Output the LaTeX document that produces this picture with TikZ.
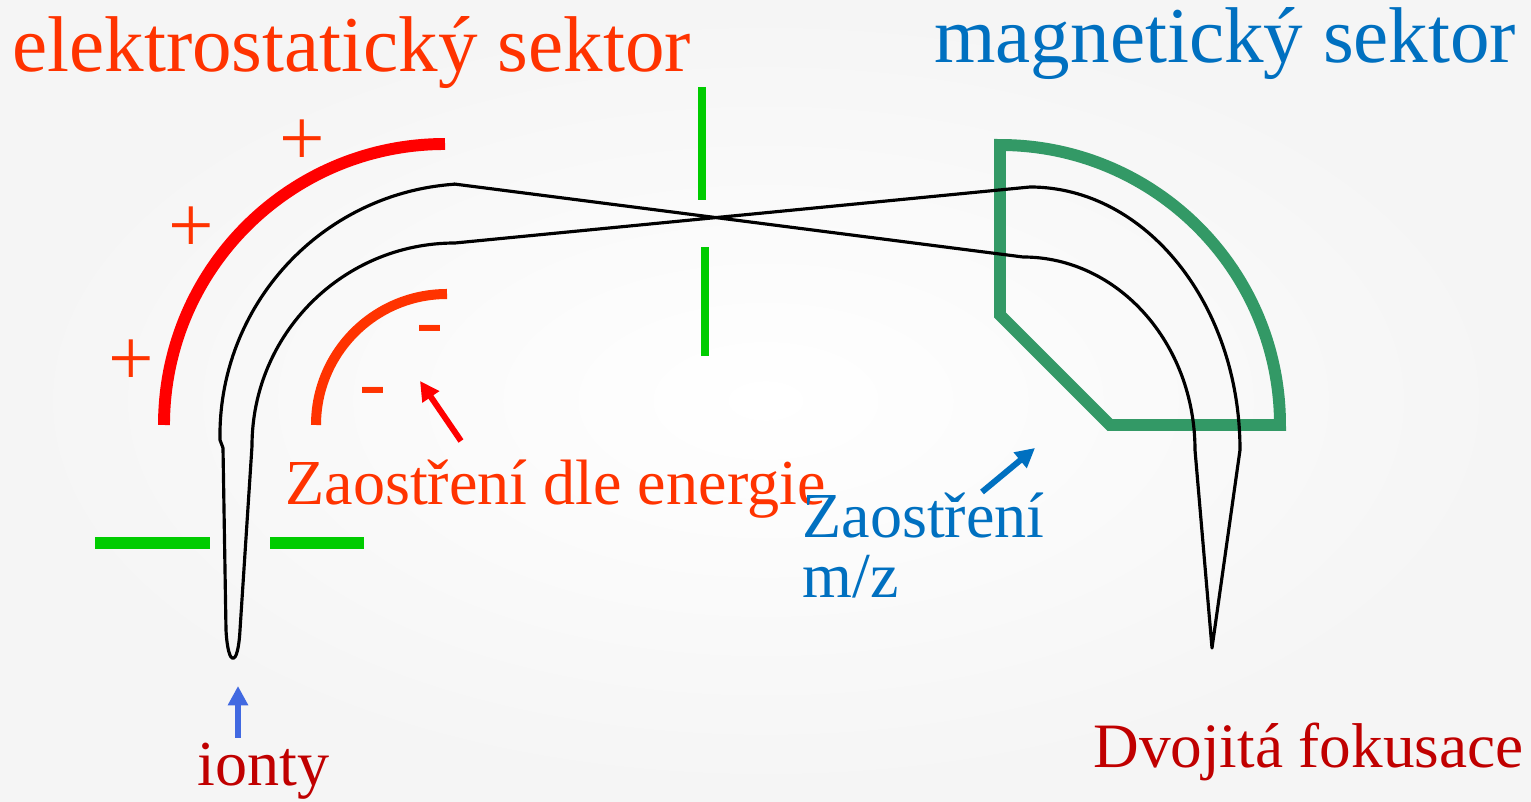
\documentclass[tikz,border=0pt]{standalone}
\usepackage{fontspec}
\setmainfont{Liberation Serif}
\usetikzlibrary{arrows.meta,positioning}
\definecolor{esRed}{RGB}{255,0,0}
\definecolor{esOrange}{RGB}{255,51,0}
\definecolor{magGreen}{RGB}{51,153,102}
\definecolor{slitGreen}{RGB}{0,204,0}
\definecolor{magBlue}{RGB}{0,112,192}
\definecolor{ionRed}{RGB}{192,0,0}
\definecolor{ionBlue}{RGB}{65,105,225}

\begin{document}
\begin{tikzpicture}[
        x=0.02cm, y=0.02cm,
        sectortitle/.style={font=\fontsize{45}{50}\selectfont, text=#1, inner sep=0pt, anchor=base west},
        notetext/.style={font=\fontsize{36.5}{40}\selectfont, text=#1, inner sep=0pt, anchor=base west},
        chargesign/.style={font=\fontsize{46}{50}\selectfont, text=esOrange, inner sep=0pt},
        beam/.style={black, line width=1.8pt, line join=round},
        slit/.style={slitGreen, line width=#1},
        pointer/.style={-{Triangle[length=11pt,width=11pt]}, line width=3.4pt, draw=#1, fill=#1}
    ]
        % Background
        \fill[inner color=white, outer color=black!4] (0,0) rectangle (1531,801);
        \useasboundingbox (0,0) rectangle (1531,801);

        % Titles
        \node[sectortitle=esOrange] (estitle) at (12,729) {elektrostatický sektor};
        \node[sectortitle=magBlue] (magtitle) at (934,738) {magnetický sektor};

        % Electrostatic sector
        \draw[esRed, line width=6.8pt] (164,376) arc[start angle=180, end angle=90, radius=281];
        \draw[esOrange, line width=5.7pt] (316,376) arc[start angle=180, end angle=90, radius=131];
        \node[chargesign] (plus1) at (302,658) {+};
        \node[chargesign] (plus2) at (191,571) {+};
        \node[chargesign] (plus3) at (131,438) {+};
        \node[chargesign] (minus1) at (430,465) {-};
        \node[chargesign] (minus2) at (373,403) {-};

        % Magnetic sector
        \draw[magGreen, line width=6.8pt] (1000,656) arc[start angle=90, end angle=0, radius=280]
            -- (1110,376) -- (1000,486) -- cycle;

        % Slits
        \draw[slit=6.5pt] (95,258) -- (210,258);
        \draw[slit=6.5pt] (270,258) -- (364,258);
        \draw[slit=4pt] (702,714) -- (702,601);
        \draw[slit=4pt] (705,554) -- (705,445);

        % Ion beams
        \draw[beam] (454,617) -- (1023,544)
            arc[start angle=90, end angle=0, x radius=172, y radius=193]
            -- (1212,153) -- (1240,351)
            arc[start angle=0, end angle=90, x radius=210, y radius=263]
            -- (455,558)
            arc[start angle=90, end angle=180, radius=203]
            -- (240,171) .. controls (238,133) and (228,133) .. (226,171)
            -- (223,353) -- (220,361)
            arc[start angle=181, end angle=94, radius=252] -- cycle;

        % Labels
        \node[notetext=esOrange] (energy) at (285,296) {Zaostření dle energie};
        \node[notetext=magBlue] (mzfocus) at (802,263) {Zaostření};
        \node[notetext=magBlue] (mz) at (802,203) {m/z};
        \node[notetext=ionRed] (ions) at (197,15) {ionty};
        \node[notetext=ionRed, font=\fontsize{36}{40}\selectfont] (double) at (1093,33) {Dvojitá fokusace};

        % Arrows
        \coordinate (energyTail) at (461,360);
        \coordinate (energyTip) at (420,420);
        \coordinate (mzTail) at (982,309);
        \coordinate (mzTip) at (1035,353);
        \coordinate (ionTip) at (238,115);
        \draw[pointer=esRed] (energyTail) -- (energyTip);
        \draw[pointer=magBlue] (mzTail) -- (mzTip);
        \draw[pointer=ionBlue] (238,63) -- (ionTip);

    \end{tikzpicture}
\end{document}
